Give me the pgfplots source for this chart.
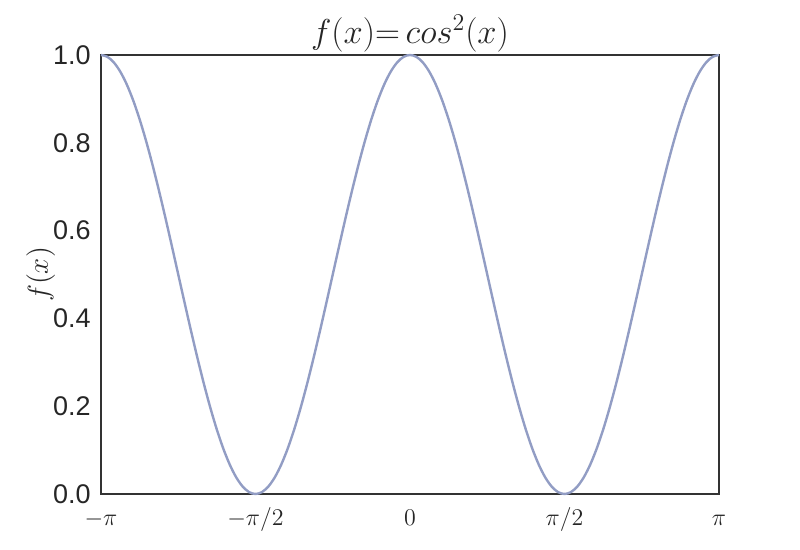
\documentclass[border=0pt]{standalone}
\usepackage{fontspec}
\setmainfont{Liberation Sans}
\usepackage{pgfplots}
\pgfplotsset{compat=1.18}
\usepackage{pgfplotstable}

% k = multiple of pi/48, y = cos^2(k*pi/48)
\pgfplotstableread{
k y
-48 1
-47 0.995722
-46 0.982963
-45 0.961940
-44 0.933013
-43 0.896677
-42 0.853553
-41 0.804381
-40 0.75
-39 0.691342
-38 0.629410
-37 0.565263
-36 0.5
-35 0.434737
-34 0.370590
-33 0.308658
-32 0.25
-31 0.195619
-30 0.146447
-29 0.103323
-28 0.066987
-27 0.038060
-26 0.017037
-25 0.004278
-24 0
-23 0.004278
-22 0.017037
-21 0.038060
-20 0.066987
-19 0.103323
-18 0.146447
-17 0.195619
-16 0.25
-15 0.308658
-14 0.370590
-13 0.434737
-12 0.5
-11 0.565263
-10 0.629410
-9 0.691342
-8 0.75
-7 0.804381
-6 0.853553
-5 0.896677
-4 0.933013
-3 0.961940
-2 0.982963
-1 0.995722
0 1
1 0.995722
2 0.982963
3 0.961940
4 0.933013
5 0.896677
6 0.853553
7 0.804381
8 0.75
9 0.691342
10 0.629410
11 0.565263
12 0.5
13 0.434737
14 0.370590
15 0.308658
16 0.25
17 0.195619
18 0.146447
19 0.103323
20 0.066987
21 0.038060
22 0.017037
23 0.004278
24 0
25 0.004278
26 0.017037
27 0.038060
28 0.066987
29 0.103323
30 0.146447
31 0.195619
32 0.25
33 0.308658
34 0.370590
35 0.434737
36 0.5
37 0.565263
38 0.629410
39 0.691342
40 0.75
41 0.804381
42 0.853553
43 0.896677
44 0.933013
45 0.961940
46 0.982963
47 0.995722
48 1
}\cosdata

\definecolor{linecol}{RGB}{146,157,196}
\definecolor{spine}{RGB}{51,51,51}
\definecolor{labtext}{RGB}{38,38,38}

\begin{document}
\begin{tikzpicture}
\begin{axis}[
  at={(0,0)}, anchor=south west,
  scale only axis,
  width=309pt, height=219.5pt,
  xmin=-1, xmax=1, ymin=0, ymax=1,
  xtick={-1,-0.5,0,0.5,1},
  xticklabels={$-\pi$,$-\pi/2$,$0$,$\pi/2$,$\pi$},
  ytick={0,0.2,0.4,0.6,0.8,1},
  yticklabel style={/pgf/number format/fixed, /pgf/number format/fixed zerofill,
    /pgf/number format/precision=1, /pgf/number format/assume math mode=true},
  major tick length=0pt,
  tick style={draw=none},
  axis line style={spine, line width=1.2pt},
  x tick label style={font=\fontsize{12}{14}\selectfont, text=labtext,
    inner sep=0pt, anchor=base, yshift=-16pt},
  y tick label style={font=\fontsize{13.5}{16}\selectfont, text=labtext,
    inner sep=1pt, xshift=-4pt},
  ylabel={$f(x)$},
  ylabel style={font=\fontsize{15}{18}\selectfont, text=labtext, yshift=-5.5pt},
  title={$f(x){=}\,cos^2(x)$},
  title style={font=\fontsize{17}{20}\selectfont, text=labtext, yshift=-8pt},
  clip=false,
]
\addplot[linecol, line width=1.2pt, smooth] table[x expr=\thisrow{k}/48, y=y] {\cosdata};
\end{axis}
\useasboundingbox (-50.5pt,-28pt) rectangle (349.5pt,247pt);
\end{tikzpicture}
\end{document}
